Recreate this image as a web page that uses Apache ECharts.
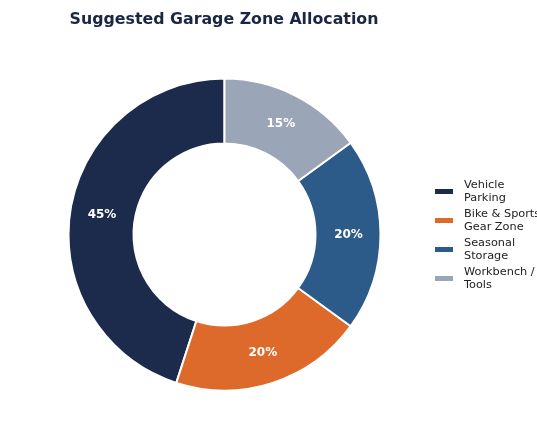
<!DOCTYPE html>
<html>
<head>
    <meta charset="utf-8">
    <title>Suggested Garage Zone Allocation</title>
    <script src="https://cdn.jsdelivr.net/npm/echarts@6/dist/echarts.min.js"></script>
    <style>
        html, body { margin: 0; padding: 0; background: #fff; }
        #chart { width: 537px; height: 442px; }
    </style>
</head>
<body>
<div id="chart"></div>
<script>
    // 数据
    var zoneNames = ['Vehicle\nParking', 'Bike & Sports\nGear Zone', 'Seasonal\nStorage', 'Workbench /\nTools'];
    var zoneShares = [45, 20, 20, 15];
    var zoneColors = ['#1c2b4b', '#dd6a2a', '#2c5b8a', '#9aa5b8'];

    var $echart = echarts.init(document.getElementById('chart'));

    var pieData = [], labelData = [];
    for (var i = 0; i < zoneNames.length; i++) {
        pieData.push({
            name: zoneNames[i],
            value: zoneShares[i],
            itemStyle: { color: zoneColors[i] }
        });
        labelData.push({ name: zoneNames[i], value: zoneShares[i] });
    }

    $echart.setOption({
        animation: false,
        title: {
            text: 'Suggested Garage Zone Allocation',
            left: 219,
            textAlign: 'center',
            top: 7,
            textStyle: {
                fontFamily: 'DejaVu Sans',
                fontSize: 15.8,
                fontWeight: 'bold',
                color: '#1a2744'
            }
        },
        legend: {
            orient: 'vertical',
            left: 428,
            top: 174,
            itemWidth: 20,
            itemHeight: 7,
            itemGap: 4,
            icon: 'rect',
            data: zoneNames,
            textStyle: {
                fontFamily: 'DejaVu Sans',
                fontSize: 11.3,
                lineHeight: 12.5,
                color: '#222',
                padding: [0, 0, 0, 5]
            }
        },
        series: [{
            type: 'pie',
            center: [224.5, 234.5],
            radius: [91, 156],
            startAngle: 90,
            clockwise: false,
            data: pieData,
            itemStyle: {
                borderColor: '#fff',
                borderWidth: 2
            },
            label: { show: false },
            labelLine: { show: false },
            emphasis: { disabled: true }
        }, {
            // 只用来放百分比标签
            type: 'pie',
            center: [224.5, 234.5],
            radius: [86, 156],
            startAngle: 90,
            clockwise: false,
            silent: true,
            data: labelData,
            itemStyle: { color: 'rgba(0,0,0,0)' },
            label: {
                position: 'inside',
                formatter: '{d}%',
                color: '#fff',
                fontFamily: 'DejaVu Sans',
                fontSize: 12,
                fontWeight: 'bold'
            },
            labelLine: { show: false },
            emphasis: { disabled: true }
        }]
    });
</script>
</body>
</html>
